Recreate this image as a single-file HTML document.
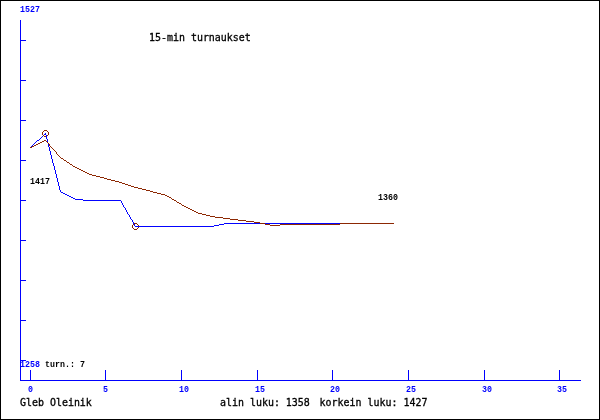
<!DOCTYPE html>
<html><head><meta charset="utf-8"><title>15-min turnaukset</title>
<style>
html,body{margin:0;padding:0;background:#fff;overflow:hidden;}
svg{display:block;}
text{font-family:"DejaVu Sans Mono","Liberation Mono",monospace;white-space:pre;}
.s{font-size:9.96px;fill:#000;stroke:#000;stroke-width:0.3px;}
.t{font-family:"Liberation Mono","DejaVu Sans Mono",monospace;font-size:8.33px;font-weight:bold;}
</style></head><body>
<svg width="600" height="420" viewBox="0 0 600 420">
<rect x="0" y="0" width="600" height="420" fill="#fff"/>
<g shape-rendering="crispEdges">
<rect x="0.5" y="0.5" width="599" height="419" fill="none" stroke="#000" stroke-width="1"/>

<rect x="20" y="20" width="1" height="361" fill="#0000ff"/>
<rect x="20" y="380" width="561" height="1" fill="#0000ff"/>
<rect x="20" y="40" width="6" height="1" fill="#0000ff"/>
<rect x="20" y="80" width="6" height="1" fill="#0000ff"/>
<rect x="20" y="120" width="6" height="1" fill="#0000ff"/>
<rect x="20" y="160" width="6" height="1" fill="#0000ff"/>
<rect x="20" y="200" width="6" height="1" fill="#0000ff"/>
<rect x="20" y="240" width="6" height="1" fill="#0000ff"/>
<rect x="20" y="280" width="6" height="1" fill="#0000ff"/>
<rect x="20" y="320" width="6" height="1" fill="#0000ff"/>
<rect x="20" y="360" width="6" height="1" fill="#0000ff"/>
<rect x="30" y="370" width="1" height="10" fill="#0000ff"/>
<rect x="105" y="370" width="1" height="10" fill="#0000ff"/>
<rect x="181" y="370" width="1" height="10" fill="#0000ff"/>
<rect x="257" y="370" width="1" height="10" fill="#0000ff"/>
<rect x="332" y="370" width="1" height="10" fill="#0000ff"/>
<rect x="408" y="370" width="1" height="10" fill="#0000ff"/>
<rect x="484" y="370" width="1" height="10" fill="#0000ff"/>
<rect x="559" y="370" width="1" height="10" fill="#0000ff"/>
<polyline points="30.49,147.49 45.49,133.49 60.49,191.49 75.49,199.49 90.49,200.49 105.49,200.49 120.49,200.49 135.49,226.49 151.49,226.49 166.49,226.49 181.49,226.49 196.49,226.49 211.49,226.49 226.49,223.49 341.49,223.49" fill="none" stroke="#0000ff" stroke-width="0.99"/>
<rect x="44" y="130" width="3" height="1" fill="#8B2500"/>
<rect x="44" y="136" width="3" height="1" fill="#8B2500"/>
<rect x="42" y="132" width="1" height="3" fill="#8B2500"/>
<rect x="48" y="132" width="1" height="3" fill="#8B2500"/>
<rect x="43" y="131" width="1" height="1" fill="#8B2500"/>
<rect x="47" y="131" width="1" height="1" fill="#8B2500"/>
<rect x="43" y="135" width="1" height="1" fill="#8B2500"/>
<rect x="47" y="135" width="1" height="1" fill="#8B2500"/>
<rect x="134" y="223" width="3" height="1" fill="#8B2500"/>
<rect x="134" y="229" width="3" height="1" fill="#8B2500"/>
<rect x="132" y="225" width="1" height="3" fill="#8B2500"/>
<rect x="138" y="225" width="1" height="3" fill="#8B2500"/>
<rect x="133" y="224" width="1" height="1" fill="#8B2500"/>
<rect x="137" y="224" width="1" height="1" fill="#8B2500"/>
<rect x="133" y="228" width="1" height="1" fill="#8B2500"/>
<rect x="137" y="228" width="1" height="1" fill="#8B2500"/>
<line x1="45.49" y1="133.49" x2="60.49" y2="191.49" stroke="#0000ff" stroke-width="0.99"/>
<line x1="135.49" y1="226.49" x2="151.49" y2="226.49" stroke="#0000ff" stroke-width="0.99"/>
<polyline points="30.49,147.49 45.49,140.49 60.49,157.49 75.49,167.49 90.49,174.49 105.49,178.49 120.49,182.49 135.49,187.49 151.49,191.49 166.49,195.49 181.49,204.49 196.49,212.49 211.49,216.49 226.49,218.49 241.49,220.49 257.49,222.49 272.49,225.49 287.49,224.49 332.49,224.49 347.49,223.49 394.49,223.49" fill="none" stroke="#8B2500" stroke-width="0.99"/>
</g>
<text class="s" transform="translate(149,41) scale(1,1.1)" x="0" y="0">15-min turnaukset</text>
<text class="s" transform="translate(20,406) scale(1,1.1)" x="0" y="0">Gleb Oleinik</text>
<text class="s" transform="translate(220,406) scale(1,1.1)" x="0" y="0">alin luku: 1358</text>
<text class="s" transform="translate(319.6,406) scale(1,1.1)" x="0" y="0">korkein luku: 1427</text>
<text class="t" fill="#0000ff" transform="translate(20,12) scale(1,1.09)" x="0" y="0">1527</text>
<text class="t" fill="#0000ff" transform="translate(20,367) scale(1,1.09)" x="0" y="0">1258</text>
<text class="t" fill="#000" transform="translate(45,367) scale(1,1.09)" x="0" y="0">turn.: 7</text>
<text class="t" fill="#000" transform="translate(30,184) scale(1,1.09)" x="0" y="0">1417</text>
<text class="t" fill="#000" transform="translate(378,200) scale(1,1.09)" x="0" y="0">1360</text>
<text class="t" fill="#0000ff" transform="translate(28,392) scale(1,1.09)" x="0" y="0">0</text>
<text class="t" fill="#0000ff" transform="translate(103,392) scale(1,1.09)" x="0" y="0">5</text>
<text class="t" fill="#0000ff" transform="translate(179,392) scale(1,1.09)" x="0" y="0">10</text>
<text class="t" fill="#0000ff" transform="translate(255,392) scale(1,1.09)" x="0" y="0">15</text>
<text class="t" fill="#0000ff" transform="translate(330,392) scale(1,1.09)" x="0" y="0">20</text>
<text class="t" fill="#0000ff" transform="translate(406,392) scale(1,1.09)" x="0" y="0">25</text>
<text class="t" fill="#0000ff" transform="translate(482,392) scale(1,1.09)" x="0" y="0">30</text>
<text class="t" fill="#0000ff" transform="translate(557,392) scale(1,1.09)" x="0" y="0">35</text>
</svg></body></html>
